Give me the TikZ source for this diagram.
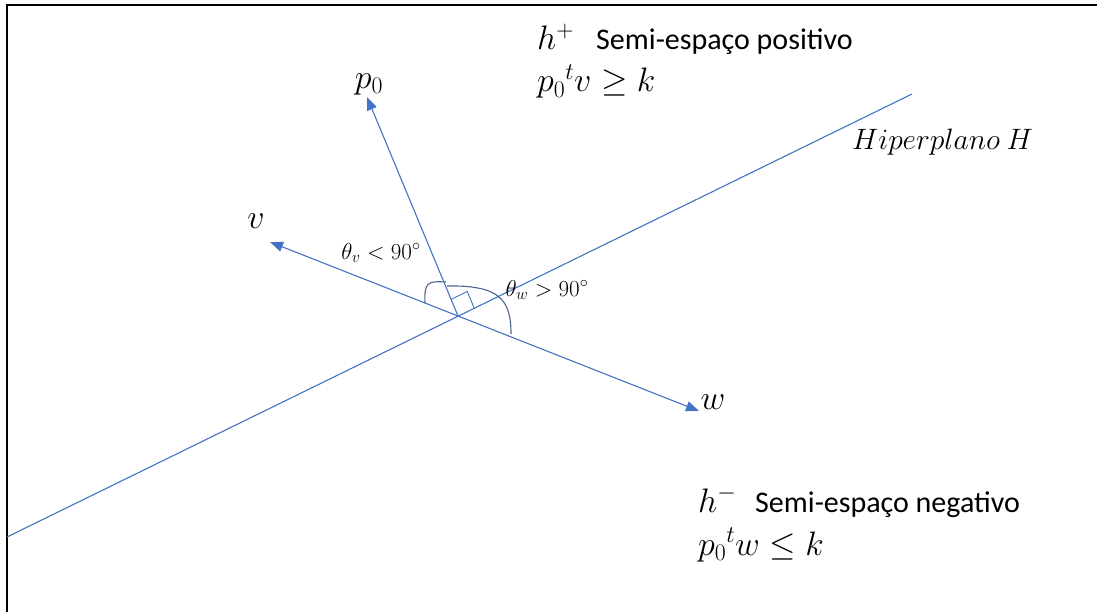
\RequirePackage{fix-cm}
\documentclass[tikz,border=0pt]{standalone}
\usepackage{fontspec}
\setmainfont{Carlito}
\usetikzlibrary{arrows.meta,calc}
\definecolor{lineblue}{RGB}{68,114,196}
\definecolor{arcgray}{RGB}{78,98,140}
\begin{document}
\begin{tikzpicture}[x=1pt,y=-1pt,
  frame/.style={draw=black,line width=2pt},
  hyper/.style={draw=lineblue,line width=1.1pt},
  vec/.style={draw=lineblue,line width=1.1pt,-{Triangle[length=13pt,width=10pt]}},
  arcst/.style={draw=arcgray,line width=1.1pt},
  bigmath/.style={inner sep=0pt,font=\fontsize{34}{40}\selectfont},
  hypmath/.style={inner sep=0pt,font=\fontsize{29.5}{35}\selectfont},
  smallmath/.style={inner sep=0pt,font=\fontsize{23}{28}\selectfont},
  txt/.style={inner sep=0pt,font=\fontsize{30}{36}\selectfont}]
\useasboundingbox (0,0) rectangle (1097,612);
% frame
\coordinate (fbl) at (7,612);
\coordinate (ftl) at (7,5);
\coordinate (ftr) at (1097,5);
\draw[frame] (fbl) -- (ftl) -- (ftr);
% key points
\coordinate (O) at (458,316);
\coordinate (HL) at (7,537);
\coordinate (HR) at (912,94);
\coordinate (P) at (367,97);
\coordinate (V) at (270,242);
\coordinate (W) at (699,411);
% hyperplane
\draw[hyper] (HL) -- (HR);
% vectors
\draw[vec] (O) -- (P);
\draw[vec] (O) -- (V);
\draw[vec] (O) -- (W);
% right angle marker
\coordinate (ra1) at ($(O)!18pt!(P)$);
\coordinate (ra2) at ($(O)!18pt!(HR)$);
\coordinate (ra3) at ($(ra1)+(ra2)-(O)$);
\draw[hyper,line width=0.9pt] (ra1) -- (ra3) -- (ra2);
% angle arcs
\draw[arcst] (425,303) .. controls (424,282) and (428,281) .. (446,282);
\draw[arcst] (447,286) .. controls (500,285) and (511,300) .. (511,334);
% labels
\node[bigmath] (lp) at (369,84) {$p_0$};
\node[bigmath] (lv) at (256,221) {$v$};
\node[bigmath] (lw) at (713,402) {$w$};
\node[smallmath] (ltv) at (381,253) {$\theta_v<90^\circ$};
\node[smallmath] (ltw) at (547,290) {$\theta_w>90^\circ$};
\node[hypmath,anchor=base west] (lH) at (852,150) {$Hiperplano\ H$};
\node[bigmath,anchor=base west] (hp) at (537,50) {$h^+$};
\node[txt,anchor=base west] (sp) at (596,50) {Semi-espaço positivo};
\node[bigmath,anchor=base west] (ip) at (537,92) {$p_0{}^t v\geq k$};
\node[bigmath,anchor=base west] (hm) at (698,512) {$h^-$};
\node[txt,anchor=base west] (sn) at (755,512) {Semi-espaço negativo};
\node[bigmath,anchor=base west] (in) at (698,555) {$p_0{}^t w\leq k$};
\end{tikzpicture}
\end{document}
